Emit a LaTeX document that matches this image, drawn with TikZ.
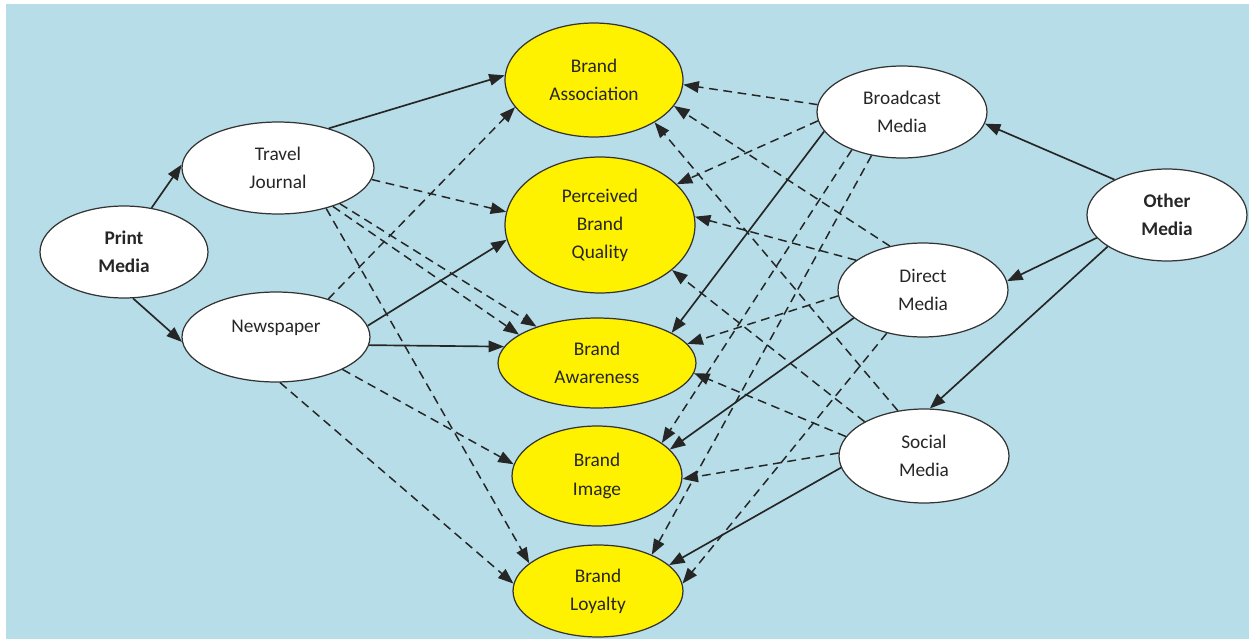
\documentclass[tikz,border=0pt]{standalone}
\usepackage{fontspec}
\setmainfont{Carlito}
\usetikzlibrary{shapes.geometric,arrows.meta}

\begin{document}
\begin{tikzpicture}[x=0.02cm,y=-0.02cm,
        medio/.style={ellipse,draw=black!80,line width=0.7pt,fill=white,inner sep=0pt,
            align=center,text=black!85,font=\fontsize{11}{16}\selectfont},
        marca/.style={medio,fill=yellow},
        fuerte/.style={->,line width=0.95pt,draw=black!85},
        debil/.style={fuerte,line width=0.85pt,dash pattern=on 5pt off 3.2pt},
        >={Triangle[length=3.1mm,width=2.3mm]}]
        %colores
        \definecolor{fondo}{RGB}{183,222,232}

        % Fondo
        \fill[white] (0,0) rectangle (1249,639);
        \fill[fondo] (6,4) rectangle (1249,639);

        % Medios izquierda
        \node[medio,minimum width=3.36cm,minimum height=1.84cm] (print) at (124,252) {\textbf{Print}\\\textbf{Media}};
        \node[medio,minimum width=3.84cm,minimum height=1.84cm] (trav) at (278,168) {Travel\\Journal};
        \node[medio,minimum width=3.76cm,minimum height=1.8cm] (news) at (276,337) {Newspaper\\[-4pt]\mbox{}};

        % Marca
        \node[marca,minimum width=3.56cm,minimum height=2.28cm] (assoc) at (594,80) {Brand\\Association};
        \node[marca,minimum width=3.8cm,minimum height=2.72cm] (qual) at (600,225) {Perceived\\Brand\\Quality};
        \node[marca,minimum width=3.96cm,minimum height=1.8cm] (aware) at (597,363) {Brand\\Awareness};
        \node[marca,minimum width=3.4cm,minimum height=2cm] (image) at (597,476) {Brand\\Image};
        \node[marca,minimum width=3.4cm,minimum height=1.84cm] (loyal) at (598,591) {Brand\\Loyalty};

        % Medios derecha
        \node[medio,minimum width=3.4cm,minimum height=1.84cm] (bcast) at (902,112) {Broadcast\\Media};
        \node[medio,minimum width=3.2cm,minimum height=1.84cm] (other) at (1167,215) {\textbf{Other}\\\textbf{Media}};
        \node[medio,minimum width=3.4cm,minimum height=1.88cm] (direct) at (923,290) {Direct\\Media};
        \node[medio,minimum width=3.4cm,minimum height=1.88cm] (social) at (924,456) {Social\\Media};

        % Flechas continuas
        \draw[fuerte] (print.58) -- (trav.178);
        \draw[fuerte] (print.-79) -- (news.183);
        \draw[fuerte] (trav.38) -- (assoc.177);
        \draw[fuerte] (news.7) -- (qual.189);
        \draw[fuerte] (news.-5) -- (aware.170);
        \draw[fuerte] (other.146) -- (bcast.-8);
        \draw[fuerte] (other.198) -- (direct.6);
        \draw[fuerte] (other.208) -- (social.83);
        \draw[fuerte] (bcast.194) -- (aware.22);
        \draw[fuerte] (direct.202) -- (image.20);
        \draw[fuerte] (social.188) -- (loyal.20);

        % Flechas punteadas
        \foreach \a/\b in {trav.-7/qual.172, trav.-30/aware.149, trav.-35/aware.160,
            trav.-40/loyal.158, news.36/assoc.199, news.-26/image.172, news.-85/loyal.175,
            bcast.175/assoc.-3, bcast.186/qual.28, bcast.217/image.27, bcast.235/loyal.34,
            direct.127/assoc.-18, direct.156/qual.5, direct.184/aware.12, direct.230/loyal.5,
            social.120/assoc.-35, social.150/qual.-32, social.166/aware.-6, social.178/image.-2}
        \draw[debil] (\a) -- (\b);
    \end{tikzpicture}
\end{document}
